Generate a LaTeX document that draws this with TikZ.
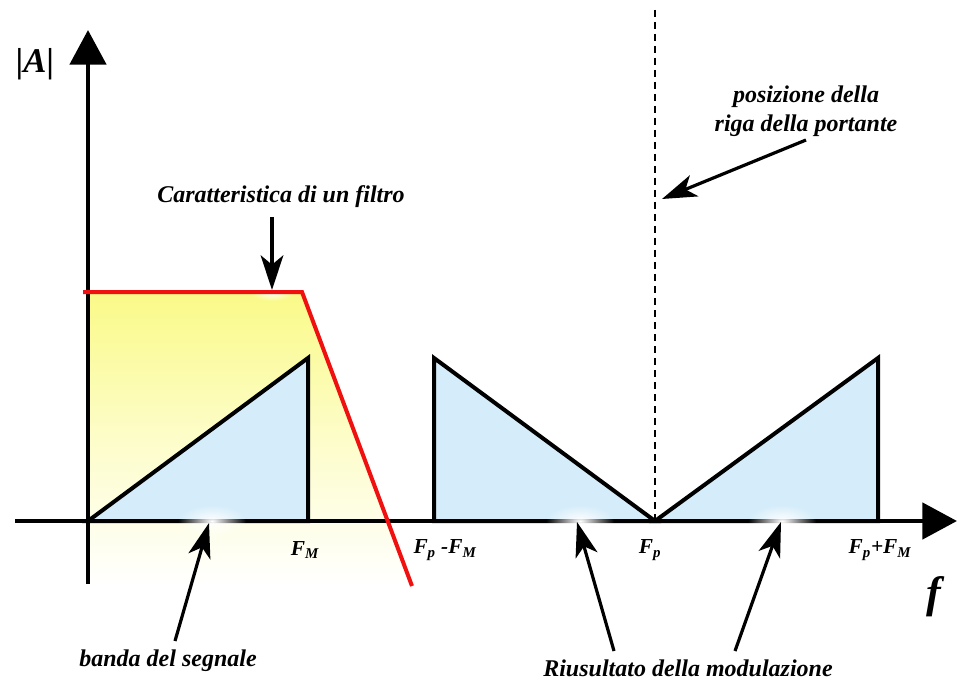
\documentclass[tikz,border=0pt]{standalone}
\usepackage{fontspec}
\setmainfont{Liberation Serif}
\usetikzlibrary{arrows.meta,fadings}
\definecolor{tribl}{HTML}{D5EDFA}
\definecolor{filtyel}{HTML}{FAFA88}
\definecolor{filtred}{HTML}{F01010}
\tikzfading[name=glowfade, inner color=transparent!0, outer color=transparent!100]
\tikzset{
  lbl/.style={font=\bfseries\itshape\fontsize{18}{22}\selectfont, inner sep=1pt},
  axlbl/.style={font=\bfseries\itshape\fontsize{16}{18}\selectfont, inner sep=1pt},
  tri/.style={fill=tribl, draw=black, line width=3pt, line join=miter},
  pointer/.style={draw=black, line width=2.4pt, -{Stealth[length=26pt,width=17pt,inset=7pt]}},
  axis/.style={draw=black, line width=3.6pt, -{Triangle[length=26pt,width=27pt]}},
  glow/.style={white, path fading=glowfade}
}
\begin{document}
\begin{tikzpicture}[x=0.75pt,y=-0.75pt]
\useasboundingbox (0,0) rectangle (957,681);
\fill[white] (0,0) rectangle (957,681);
% filter region
\shade[top color=filtyel, bottom color=white, middle color=filtyel!45] (88,292) -- (302,292) -- (410,585) -- (88,585) -- cycle;
% triangles
\coordinate (o) at (88,521);
\coordinate (fm) at (308,521);
\coordinate (fmt) at (308,358);
\coordinate (l) at (434,521);
\coordinate (lt) at (434,358);
\coordinate (fp) at (655,521);
\coordinate (r) at (878,521);
\coordinate (rt) at (878,358);
\path[tri] (o) -- (fmt) -- (fm) -- cycle;
\path[tri] (lt) -- (fp) -- (l) -- cycle;
\path[tri] (fp) -- (rt) -- (r) -- cycle;
% dashed carrier
\coordinate (dtop) at (655,10);
\draw[line width=1.3pt, dash pattern=on 5pt off 4pt] (dtop) -- (fp);
% axes
\coordinate (xs) at (15,521);
\coordinate (xe) at (957,521);
\coordinate (ys) at (88,584);
\coordinate (ye) at (88,30);
\draw[axis] (xs) -- (xe);
\draw[axis] (ys) -- (ye);
% glows on axis
\fill[glow] (212,521) ellipse (34 and 16);
\fill[glow] (580,521) ellipse (34 and 16);
\fill[glow] (782,521) ellipse (34 and 16);
\fill[glow] (272,292) ellipse (22 and 9);
% red filter line
\coordinate (fa) at (83,292);
\coordinate (fb) at (302,292);
\coordinate (fc) at (412,586);
\draw[filtred, line width=3pt, line join=miter] (fa) -- (fb) -- (fc);
% axis labels
\node[font=\bfseries\itshape\fontsize{26}{28}\selectfont] (A) at (35,64) {|A|};
\node[font=\bfseries\itshape\fontsize{33}{35}\selectfont] (f) at (934,597) {f};
% tick labels
\node[axlbl] (lFM) at (305,550) {F\textsubscript{M}};
\node[axlbl] (lFpm) at (445,550) {F\textsubscript{p} -F\textsubscript{M}};
\node[axlbl] (lFp) at (650,550) {F\textsubscript{p}};
\node[axlbl] (lFpp) at (880,550) {F\textsubscript{p}+F\textsubscript{M}};
% annotations
\node[lbl] (filt) at (281,197) {Caratteristica di un filtro};
\coordinate (filtend) at (272,290);
\draw[pointer] (272,217) -- (filtend);
\node[lbl, align=center] (port) at (806,111) {posizione della\\riga della portante};
\coordinate (portend) at (662,199);
\draw[pointer] (806,140) -- (portend);
\node[lbl] (banda) at (168,661) {banda del segnale};
\coordinate (bandaend) at (209,523);
\draw[pointer] (175,641) -- (bandaend);
\node[lbl] (mod) at (688,668) {Riusultato della modulazione};
\coordinate (mod1) at (577,522);
\coordinate (mod2) at (781,522);
\draw[pointer] (614,651) -- (mod1);
\draw[pointer] (735,651) -- (mod2);
\end{tikzpicture}
\end{document}
